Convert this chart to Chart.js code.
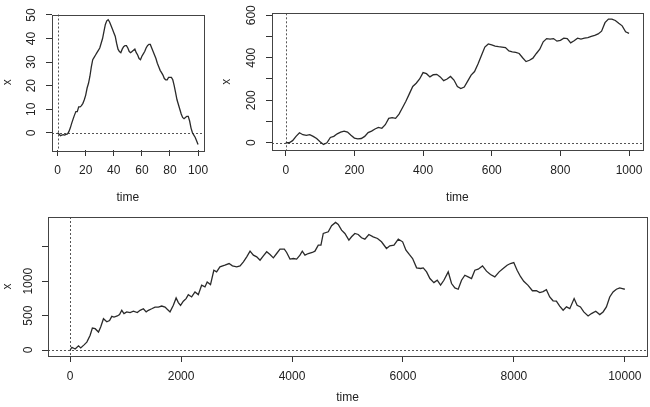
<!DOCTYPE html>
<html>
<head>
<meta charset="utf-8">
<script src="https://cdn.jsdelivr.net/npm/chart.js@4.4.1/dist/chart.umd.min.js"></script>
<style>
  html, body { margin: 0; padding: 0; background: #fff; }
  #wrap { position: relative; width: 650px; height: 407px; overflow: hidden; }
  canvas { position: absolute; }
</style>
</head>
<body>
<div id="wrap">
  <canvas id="plot100" width="216" height="208" style="left:0;top:0"></canvas>
  <canvas id="plot1000" width="434" height="208" style="left:216px;top:0"></canvas>
  <canvas id="plot10000" width="650" height="199" style="left:0;top:208px"></canvas>
</div>
<script>
// random walk, n = 100 (time 0..100)
const p1Values = [
  0, -0.5, -1.2, -1, -0.8, -1, -0.7, -0.5, 0.5, 2,
  4, 5.8, 7.5, 9, 9, 11, 11, 11.5, 12.5, 14,
  16, 19, 21, 24, 28, 31, 32, 33, 34, 35,
  36, 38, 40, 43, 46, 47.5, 48, 47, 45.5, 44,
  42.5, 41, 38, 35.5, 34.5, 34, 35.5, 36.5, 37, 37,
  36, 34.5, 34, 34.5, 35, 35.5, 34, 33, 31.5, 31,
  32.5, 33.5, 34.5, 36, 37, 37.5, 37.5, 36, 34.5, 33,
  31.5, 29.5, 28, 26.5, 25.5, 24.5, 23, 22.5, 22.5, 23.5,
  23.5, 23.5, 22.5, 20, 17, 14, 12, 10, 8, 6.5,
  6, 6.5, 7, 7, 5, 2, 0, -1, -2, -3.5,
  -5
];
const p1XTicks = [0, 20, 40, 60, 80, 100];
const p1XLabels = ['0', '20', '40', '60', '80', '100'];
const p1YTicks = [0, 10, 20, 30, 40, 50];
const p1YLabels = ['0', '10', '20', '30', '40', '50'];

// random walk, n = 1000, read every 10 steps
const p2Step = 10;
const p2Values = [
  0, 0, 10, 30, 47, 38, 35, 38, 30, 20,
  5, -8, 0, 25, 30, 42, 50, 55, 50, 35,
  22, 18, 20, 30, 48, 55, 65, 72, 68, 85,
  115, 118, 115, 135, 165, 195, 230, 265, 280, 300,
  330, 325, 310, 320, 322, 310, 292, 300, 312, 295,
  265, 255, 262, 290, 318, 335, 370, 410, 450, 465,
  460, 455, 452, 450, 448, 432, 428, 425, 420, 400,
  382, 388, 398, 420, 440, 475, 490, 488, 490, 478,
  482, 492, 490, 470, 480, 492, 488, 492, 495, 500,
  505, 512, 525, 565, 582, 582, 575, 562, 550, 522,
  515
];
const p2XTicks = [0, 200, 400, 600, 800, 1000];
const p2XLabels = ['0', '200', '400', '600', '800', '1000'];
const p2YTicks = [0, 100, 200, 300, 400, 500, 600];
const p2YLabels = ['0', '', '200', '', '400', '', '600'];

// random walk, n = 10000
const p3Time = [
  0, 30, 90, 150, 190, 250, 300, 360, 400, 450, 510, 550, 600, 660, 710, 750, 790, 850, 890, 930,
  970, 1020, 1080, 1140, 1210, 1260, 1320, 1370, 1410, 1470, 1530, 1590, 1650, 1710, 1750, 1800, 1860, 1910, 1950, 1990,
  2040, 2090, 2130, 2190, 2250, 2310, 2370, 2430, 2470, 2530, 2590, 2640, 2700, 2790, 2865, 2925, 3003, 3063, 3123, 3183,
  3243, 3303, 3363, 3423, 3483, 3543, 3603, 3663, 3723, 3783, 3861, 3903, 3963, 4023, 4083, 4143, 4185, 4233, 4293, 4365,
  4413, 4473, 4521, 4563, 4653, 4713, 4785, 4833, 4893, 4953, 5025, 5073, 5133, 5193, 5253, 5313, 5385, 5463, 5541, 5613,
  5703, 5763, 5838, 5916, 5994, 6054, 6114, 6174, 6246, 6318, 6366, 6426, 6486, 6558, 6618, 6678, 6738, 6816, 6876, 6936,
  6996, 7056, 7116, 7176, 7236, 7296, 7356, 7434, 7506, 7578, 7656, 7734, 7806, 7878, 7938, 7998, 8058, 8118, 8178, 8256,
  8334, 8406, 8466, 8526, 8586, 8646, 8706, 8766, 8826, 8888, 8948, 9008, 9086, 9140, 9200, 9260, 9338, 9398, 9476, 9548,
  9608, 9668, 9728, 9788, 9848, 9908, 9956, 10000
];
const p3Values = [
  0, 40, 15, 60, 30, 75, 115, 215, 320, 310, 262, 335, 455, 410, 430, 490, 480, 495, 515, 578,
  530, 555, 545, 565, 545, 578, 600, 555, 578, 600, 625, 625, 640, 625, 593, 555, 650, 758, 690, 650,
  710, 748, 806, 772, 845, 806, 943, 918, 990, 952, 1160, 1137, 1210, 1234, 1258, 1224, 1210, 1224, 1283, 1356,
  1438, 1380, 1356, 1307, 1370, 1429, 1390, 1341, 1404, 1467, 1467, 1419, 1322, 1331, 1322, 1380, 1438, 1380, 1404, 1419,
  1438, 1526, 1526, 1696, 1720, 1808, 1856, 1827, 1744, 1696, 1599, 1647, 1696, 1681, 1633, 1613, 1681, 1647, 1623, 1574,
  1477, 1516, 1526, 1613, 1574, 1453, 1390, 1331, 1195, 1186, 1195, 1137, 1040, 981, 1015, 943, 1015, 1137, 967, 904,
  884, 1015, 1088, 1064, 1040, 1161, 1176, 1224, 1147, 1098, 1064, 1137, 1186, 1234, 1258, 1273, 1161, 1070, 1000, 940,
  862, 862, 836, 850, 877, 772, 716, 711, 639, 578, 627, 602, 748, 651, 627, 554, 496, 530, 564, 515,
  554, 627, 772, 845, 884, 904, 894, 884
];
const p3XTicks = [0, 2000, 4000, 6000, 8000, 10000];
const p3XLabels = ['0', '2000', '4000', '6000', '8000', '10000'];
const p3YTicks = [0, 500, 1000, 1500];
const p3YLabels = ['0', '500', '1000', ''];

Chart.defaults.font.family = '"Liberation Sans", Arial, Helvetica, sans-serif';
Chart.defaults.font.size = 12;
Chart.defaults.color = '#222';

// box round the plot region and dotted lines through zero, like abline(h=0, v=0, lty=3)
const rStylePlugin = {
  id: 'rStyle',
  beforeDatasetsDraw(chart) {
    const { ctx, chartArea: a, scales } = chart;
    const x0 = Math.round(scales.x.getPixelForValue(0)) + 0.5;
    const y0 = Math.round(scales.y.getPixelForValue(0)) + 0.5;
    ctx.save();
    ctx.strokeStyle = '#555';
    ctx.lineWidth = 1;
    ctx.setLineDash([2, 2]);
    ctx.beginPath();
    ctx.moveTo(x0, a.top);
    ctx.lineTo(x0, a.bottom);
    ctx.moveTo(a.left, y0);
    ctx.lineTo(a.right, y0);
    ctx.stroke();
    ctx.restore();
  },
  afterDraw(chart) {
    const { ctx, chartArea: a } = chart;
    ctx.save();
    ctx.strokeStyle = '#444';
    ctx.lineWidth = 1;
    ctx.strokeRect(Math.round(a.left) + 0.5, Math.round(a.top) + 0.5,
      Math.round(a.right - a.left), Math.round(a.bottom - a.top));
    ctx.restore();
  }
};

function makePanel(canvasId, points, cfg) {
  const ctx = document.getElementById(canvasId).getContext('2d');
  return new Chart(ctx, {
    type: 'line',
    data: {
      datasets: [{
        data: points,
        borderColor: '#2a2a2a',
        borderWidth: 1.3,
        pointRadius: 0,
        tension: 0,
        fill: false
      }]
    },
    options: {
      responsive: false,
      animation: false,
      devicePixelRatio: 1,
      layout: { padding: cfg.padding },
      plugins: { legend: { display: false }, tooltip: { enabled: false } },
      scales: {
        x: {
          type: 'linear',
          min: cfg.xMin,
          max: cfg.xMax,
          afterBuildTicks: s => { s.ticks = cfg.xTicks.map(v => ({ value: v })); },
          afterFit: s => { s.height = cfg.xAxisHeight; },
          border: { display: false },
          grid: { drawOnChartArea: false, drawTicks: true, tickLength: 6, color: '#333' },
          ticks: {
            autoSkip: false, maxRotation: 0, padding: cfg.xTickPad, color: '#222',
            callback: (v, i) => cfg.xLabels[i]
          },
          title: { display: true, text: 'time', color: '#222', padding: { top: 0, bottom: 0 } }
        },
        y: {
          type: 'linear',
          min: cfg.yMin,
          max: cfg.yMax,
          afterBuildTicks: s => { s.ticks = cfg.yTicks.map(v => ({ value: v })); },
          afterFit: s => { s.width = cfg.yAxisWidth; },
          border: { display: false },
          grid: { drawOnChartArea: false, drawTicks: true, tickLength: 6, color: '#333' },
          ticks: {
            autoSkip: false, minRotation: 90, maxRotation: 90, crossAlign: 'center',
            padding: cfg.yTickPad, color: '#222',
            callback: (v, i) => cfg.yLabels[i]
          },
          title: { display: true, text: 'x', color: '#222', padding: { top: cfg.yTitlePad, bottom: 0 } }
        }
      }
    },
    plugins: [rStylePlugin]
  });
}

document.addEventListener('DOMContentLoaded', function() {
  makePanel('plot100', p1Values.map((v, i) => ({ x: i, y: v })), {
    padding: { left: 0, top: 12.5, right: 11.5, bottom: 2.8 },
    xMin: -4, xMax: 104, yMin: -7.3, yMax: 50.2,
    xTicks: p1XTicks, xLabels: p1XLabels, yTicks: p1YTicks, yLabels: p1YLabels,
    xAxisHeight: 55.2, yAxisWidth: 52, xTickPad: 7.5, yTickPad: 7.3, yTitlePad: 0
  });

  makePanel('plot1000', p2Values.map((v, i) => ({ x: i * p2Step, y: v })), {
    padding: { left: 0, top: 13.3, right: 3, bottom: 2.8 },
    xMin: -40, xMax: 1040, yMin: -34, yMax: 609,
    xTicks: p2XTicks, xLabels: p2XLabels, yTicks: p2YTicks, yLabels: p2YLabels,
    xAxisHeight: 55.2, yAxisWidth: 56, xTickPad: 7.5, yTickPad: 4, yTitlePad: 3.8
  });

  makePanel('plot10000', p3Time.map((t, i) => ({ x: t, y: p3Values[i] })), {
    padding: { left: 0, top: 9, right: 3, bottom: 2.1 },
    xMin: -400, xMax: 10400, yMin: -87, yMax: 1935,
    xTicks: p3XTicks, xLabels: p3XLabels, yTicks: p3YTicks, yLabels: p3YLabels,
    xAxisHeight: 48.9, yAxisWidth: 48, xTickPad: 7.8, yTickPad: 0, yTitlePad: 0
  });
});
</script>
</body>
</html>
